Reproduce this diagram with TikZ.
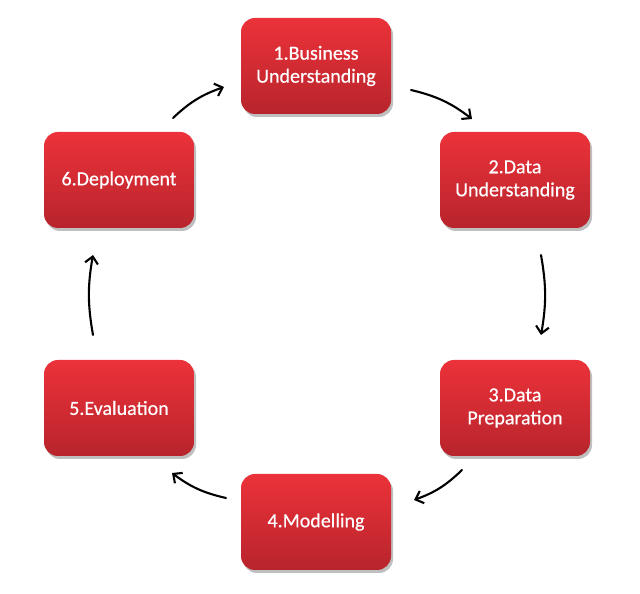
\documentclass[tikz,border=0pt]{standalone}
\usepackage{fontspec}
\setmainfont{Carlito}
\newfontfamily\boxfont{Carlito}[FakeBold=0.5]
\usetikzlibrary{arrows.meta,shadows}
\definecolor{rtop}{RGB}{236,50,58}
\definecolor{rbot}{RGB}{184,36,44}
\tikzset{
  stage/.style={rounded corners=14pt, minimum width=150pt, minimum height=96pt,
    top color=rtop, bottom color=rbot, draw=none, text=white, align=center,
    font=\boxfont\fontsize{20}{23}\selectfont,
    drop shadow={shadow xshift=2pt, shadow yshift=-3pt, opacity=0.25, fill=black}},
  flow/.style={line width=2.1pt, -{Straight Barb[length=7pt,width=13pt,line width=2.1pt]}, line cap=round}
}
\begin{document}
\begin{tikzpicture}[x=1pt,y=1pt]
\useasboundingbox[fill=white] (0,0) rectangle (640,594);
\node[stage] (b1) at (316,528) {1.Business\\Understanding};
\node[stage] (b2) at (515,414) {2.Data\\Understanding};
\node[stage] (b3) at (515,186) {3.Data\\Preparation};
\node[stage] (b4) at (316,72) {4.Modelling};
\node[stage] (b5) at (119,186) {5.Evaluation};
\node[stage] (b6) at (119,414) {6.Deployment};
\coordinate (s12) at (411,504); \coordinate (e12) at (472,475);
\coordinate (s23) at (541,339); \coordinate (e23) at (541,259);
\coordinate (s34) at (462,124); \coordinate (e34) at (414,94);
\coordinate (s45) at (226,96);  \coordinate (e45) at (172,121);
\coordinate (s56) at (93,259);  \coordinate (e56) at (93,339);
\coordinate (s61) at (173,476); \coordinate (e61) at (224,507);
\draw[flow] (s12) to[bend left=12] (e12);
\draw[flow] (s23) to[bend left=10] (e23);
\draw[flow] (s34) to[bend left=12] (e34);
\draw[flow] (s45) to[bend left=12] (e45);
\draw[flow] (s56) to[bend left=10] (e56);
\draw[flow] (s61) to[bend left=12] (e61);
\end{tikzpicture}
\end{document}
